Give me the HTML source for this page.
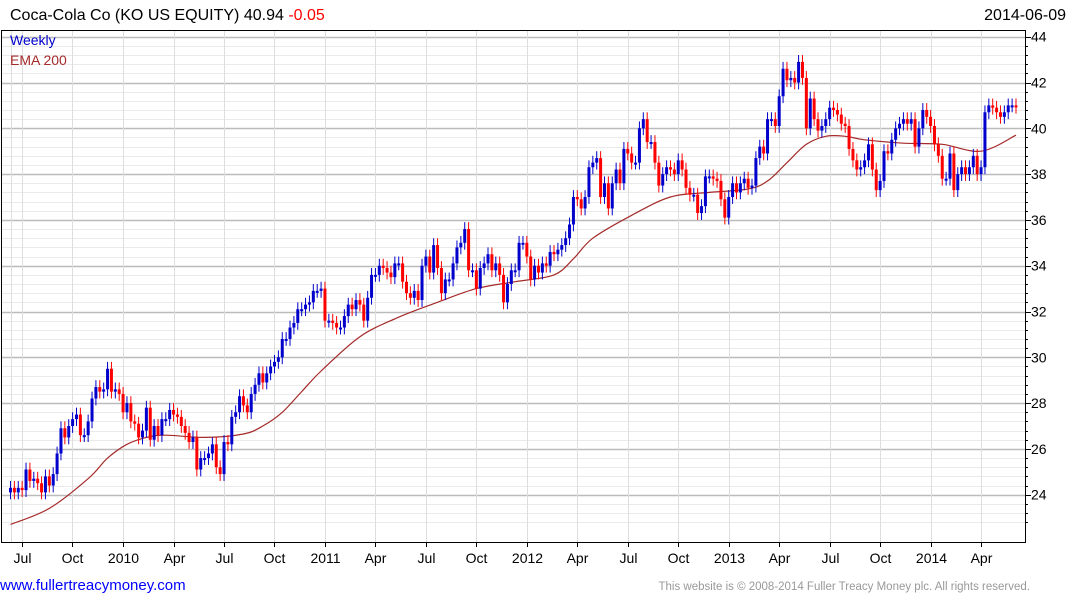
<!DOCTYPE html>
<html><head><meta charset="utf-8"><style>
html,body{margin:0;padding:0;background:#fff;width:1075px;height:600px;overflow:hidden}
svg{display:block;font-family:"Liberation Sans",sans-serif}
</style></head><body>
<svg id="chart" width="1075" height="600" viewBox="0 0 1075 600" xmlns="http://www.w3.org/2000/svg">
<text x="10" y="20" font-size="16" fill="#000">Coca-Cola Co (KO US EQUITY) 40.94 <tspan fill="#f00">-0.05</tspan></text>
<text x="1066" y="20" font-size="16" text-anchor="end" fill="#000">2014-06-09</text>
<g id="grid"></g>
<g id="ema"></g>
<g id="candles"></g>
<rect x="1.5" y="30.5" width="1024" height="512" fill="none" stroke="#000" stroke-width="1"/>
<g id="axes"></g>
<text x="10" y="45" font-size="14" fill="#00c">Weekly</text>
<text x="10" y="65" font-size="14" fill="#a52a2a">EMA 200</text>
<text x="0" y="590" font-size="15" fill="#00f">www.fullertreacymoney.com</text>
<text x="1030" y="590" font-size="11.5" fill="#999" text-anchor="end">This website is © 2008-2014 Fuller Treacy Money plc. All rights reserved.</text>
</svg>
<script>
const closes = [24.3,24.1,24.3,24.2,25.1,24.6,24.7,24.5,24.1,24.8,
24.4,24.9,25.8,26.9,26.5,27.0,27.3,27.5,26.6,26.6,
27.2,28.2,28.7,28.5,28.6,29.5,28.5,28.6,28.4,27.6,
28.0,27.2,27.1,26.5,26.8,27.8,26.4,27.0,26.6,27.3,
27.3,27.7,27.5,27.4,27.0,26.7,26.3,26.5,25.1,25.6,
25.6,25.8,26.2,25.2,24.9,26.3,26.2,27.4,27.6,28.3,
27.9,27.6,28.4,28.8,29.3,28.9,29.3,29.6,29.8,30.0,
30.8,30.8,31.3,31.5,32.1,32.1,32.3,32.4,32.9,32.9,
33.0,31.6,31.6,31.5,31.3,
31.3,31.8,32.3,32.1,32.5,32.3,31.6,32.6,33.6,33.6,
34.0,33.9,33.7,33.5,34.1,34.1,33.3,32.8,32.6,32.9,
32.5,34.0,34.4,33.7,34.9,33.9,32.8,33.4,33.4,34.1,
34.8,35.0,35.6,33.8,33.8,33.0,33.9,34.1,34.5,33.8,
34.1,33.6,32.4,33.2,33.8,33.8,35.0,35.0,34.4,33.4,
34.0,33.7,34.1,34.0,34.6,34.5,34.7,34.9,35.2,35.8,
37.0,36.9,36.5,37.0,38.3,38.5,38.7,37.0,37.6,36.5,
37.6,38.2,37.6,39.1,38.9,38.5,38.5,40.0,40.4,39.4,
39.4,38.5,37.5,38.0,38.3,38.2,38.0,38.6,
38.2,37.4,37.1,37.1,36.3,36.6,37.9,37.9,37.8,37.7,
36.9,36.1,37.0,37.6,37.2,37.6,37.8,37.4,37.5,38.7,
39.2,38.9,40.4,40.4,40.1,41.4,42.6,42.1,42.2,42.0,
42.9,42.2,40.0,41.3,40.4,39.9,40.1,40.4,40.9,40.8,
40.6,40.2,40.1,39.1,38.6,38.2,38.3,38.6,39.3,38.2,
37.3,37.7,39.0,38.9,39.5,40.0,40.2,40.4,40.2,40.4,
39.2,40.0,40.8,40.5,40.1,39.3,38.8,37.8,37.8,38.9,
37.3,38.0,38.3,38.0,38.3,38.8,38.0,38.3,40.7,41.0,
40.9,40.7,40.5,40.7,41.0,41.0,40.94];
const firstOpen = 24.1;
const emaWeeks = [0,10,20,25,30,35,40,50,60,65,70,75,80,90,100,110,120,130,140,145,150,160,170,180,190,195,200,205,210,215,220,230,240,250,259];
const emaValues = [22.7,23.4,24.7,25.6,26.2,26.5,26.6,26.5,26.65,27.0,27.6,28.5,29.4,30.9,31.75,32.4,33.0,33.3,33.6,34.3,35.2,36.2,37.0,37.2,37.35,37.7,38.5,39.3,39.65,39.65,39.5,39.35,39.3,39.0,39.7];
const yTicks = [24,26,28,30,32,34,36,38,40,42,44];
const xTickLabels = ["Jul","Oct","2010","Apr","Jul","Oct","2011","Apr","Jul","Oct","2012","Apr","Jul","Oct","2013","Apr","Jul","Oct","2014","Apr"];
const xTickWeeks = [2.9,15.9,28.9,42,55,68,81,94,107,120,133,146,159,172,185,198,211,224,237,250];

const NS="http://www.w3.org/2000/svg";
const X0=10.5, X1=1016, n=closes.length;
function x(i){return X0+i*(X1-X0)/(n-1);}
function y(v){return 128.3-(v-40)*22.9;}
function mk(tag,parent,attrs){const e=document.createElementNS(NS,tag);for(const k in attrs)e.setAttribute(k,attrs[k]);parent.appendChild(e);return e;}
const grid=document.getElementById('grid'), axes=document.getElementById('axes');
for(let v=22.8;v<=44.41;v+=0.4){
  const yy=Math.round(y(v))+0.5; if(yy<31||yy>542)continue;
  const major=Math.abs(Math.round(v/2)*2-v)<0.01;
  const l=mk('line',grid,{x1:2,x2:1025,y1:yy,y2:yy,stroke:major?'#bbb':'#eaeaea','stroke-width':major?1.5:1});
  
  
  const t=mk('line',axes,{x1:1025,x2:major?1031:1028,y1:yy,y2:yy,stroke:'#000'});
  
  
}
yTicks.forEach(v=>{
  const t=mk('text',axes,{x:1031,y:y(v)+5,'font-size':14,fill:'#000'});t.textContent=v;
  
  
});
xTickWeeks.forEach((w,k)=>{
  const xx=Math.round(x(w))+0.5;
  const l=mk('line',grid,{x1:xx,x2:xx,y1:31,y2:542,stroke:'#ddd','stroke-width':1});
  
  
  const t=mk('line',axes,{x1:xx,x2:xx,y1:542,y2:547,stroke:'#000'});
  
  
  const tx=mk('text',axes,{x:xx,y:563,'font-size':14,'text-anchor':'middle',fill:'#000'});tx.textContent=xTickLabels[k];
  
  
});
{const xx=Math.round(x(0))+0.5;
 const l=mk('line',grid,{x1:xx,x2:xx,y1:31,y2:542,stroke:'#ddd'});
 
 }
// EMA as smooth Catmull-Rom path through the sampled values
const P=emaWeeks.map((w,k)=>[x(w),y(emaValues[k])]);
let d='M'+P[0][0].toFixed(1)+','+P[0][1].toFixed(1);
for(let k=0;k<P.length-1;k++){
  const p0=P[k-1]||P[k],p1=P[k],p2=P[k+1],p3=P[k+2]||P[k+1];
  const c1=[p1[0]+(p2[0]-p0[0])/6,p1[1]+(p2[1]-p0[1])/6];
  const c2=[p2[0]-(p3[0]-p1[0])/6,p2[1]-(p3[1]-p1[1])/6];
  d+=' C'+c1.map(v=>v.toFixed(1)).join(',')+' '+c2.map(v=>v.toFixed(1)).join(',')+' '+p2.map(v=>v.toFixed(1)).join(',');
}
const pl=mk('path',document.getElementById('ema'),{d:d,fill:'none',stroke:'#a52a2a','stroke-width':1.2});


const cg=document.getElementById('candles');
closes.forEach((c,i)=>{
  const o=i===0?firstOpen:closes[i-1];
  const up=c>=o, col=up?'#00c':'#f00';
  const hi=Math.max(o,c)+0.3, lo=Math.min(o,c)-0.3, xx=x(i);
  const w=mk('line',cg,{x1:xx,x2:xx,y1:y(hi),y2:y(lo),stroke:col,'stroke-width':1});
  
  
  const top=y(Math.max(o,c)), h=Math.max(2,y(Math.min(o,c))-top);
  const b=mk('rect',cg,{x:xx-1.5,y:top,width:3,height:h,fill:col});
  
  
});
</script>
</body></html>
